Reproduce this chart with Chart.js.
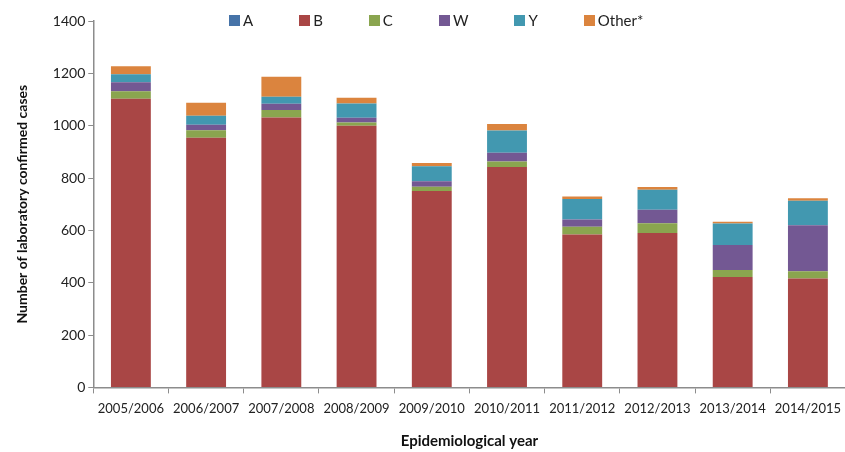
<!DOCTYPE html>
<html>
<head>
<meta charset="utf-8">
<script src="https://cdn.jsdelivr.net/npm/chart.js@4"></script>
<style>
  html, body { margin: 0; padding: 0; background: #fff; overflow: hidden; }
  #wrap { position: relative; width: 849px; height: 452px; }
  #legend {
    position: absolute; left: 229px; top: 12px;
    display: flex; gap: 46px;
    font-family: Lato, sans-serif; font-size: 15px; color: #222;
  }
  .item { display: flex; align-items: center; line-height: 17px; }
  .swatch { width: 11px; height: 11px; margin-right: 3px; }
</style>
</head>
<body>
<div id="wrap">
  <canvas id="chart" width="849" height="452"></canvas>
  <div id="legend"></div>
</div>
<script>
// Serogroup cases by epidemiological year
const years = ['2005/2006', '2006/2007', '2007/2008', '2008/2009', '2009/2010',
               '2010/2011', '2011/2012', '2012/2013', '2013/2014', '2014/2015'];
const groupA = [0, 0, 0, 0, 0, 0, 0, 0, 0, 0];
const groupB = [1103, 954, 1031, 1000, 750, 842, 584, 590, 422, 416];
const groupC = [29, 29, 29, 12, 17, 21, 30, 37, 27, 28];
const groupW = [34, 21, 24, 18, 21, 34, 28, 52, 95, 176];
const groupY = [31, 34, 27, 55, 57, 85, 78, 76, 82, 93];
const groupOther = [30, 50, 76, 22, 12, 24, 9, 11, 7, 10];
const yTicks = [0, 200, 400, 600, 800, 1000, 1200, 1400];

const series = [
  { label: 'A', data: groupA, color: '#4673a8' },
  { label: 'B', data: groupB, color: '#a94645' },
  { label: 'C', data: groupC, color: '#8aa54f' },
  { label: 'W', data: groupW, color: '#735893' },
  { label: 'Y', data: groupY, color: '#4298b0' },
  { label: 'Other*', data: groupOther, color: '#db843e' }
];

// HTML legend
const legendEl = document.getElementById('legend');
series.forEach(s => {
  const item = document.createElement('div');
  item.className = 'item';
  item.innerHTML = `<span class="swatch" style="background:${s.color}"></span><span>${s.label}</span>`;
  legendEl.appendChild(item);
});

const axisColor = '#8c8c8c';
const font = 'Lato, sans-serif';

new Chart(document.getElementById('chart'), {
  type: 'bar',
  data: {
    labels: years,
    datasets: series.map(s => ({
      label: s.label,
      data: s.data,
      backgroundColor: s.color,
      borderWidth: 0,
      barPercentage: 0.53,
      categoryPercentage: 1
    }))
  },
  options: {
    responsive: false,
    animation: false,
    layout: { padding: { top: 21, right: 0, bottom: 2, left: 14 } },
    plugins: { legend: { display: false }, tooltip: { enabled: false } },
    scales: {
      x: {
        stacked: true,
        grid: { display: true, drawOnChartArea: false, offset: true, color: axisColor, tickLength: 6 },
        border: { color: axisColor, width: 1.5 },
        ticks: { color: '#222', font: { family: font, size: 13 }, padding: 8, maxRotation: 0 },
        title: {
          display: true, text: 'Epidemiological year', color: '#111',
          font: { family: font, size: 15, weight: 'bold' }, padding: { top: 7, bottom: 0 }
        }
      },
      y: {
        stacked: true,
        min: 0, max: 1400,
        afterBuildTicks: axis => { axis.ticks = yTicks.map(v => ({ value: v })); },
        grid: { drawOnChartArea: false, color: axisColor, tickLength: 5 },
        border: { color: axisColor, width: 1.5 },
        ticks: { color: '#222', font: { family: font, size: 14 }, padding: 3, callback: v => String(v) },
        title: {
          display: true, text: 'Number of laboratory confirmed cases', color: '#111',
          font: { family: font, size: 14, weight: 'bold' }, padding: { top: 0, bottom: 19 }
        }
      }
    }
  }
});
</script>
</body>
</html>
